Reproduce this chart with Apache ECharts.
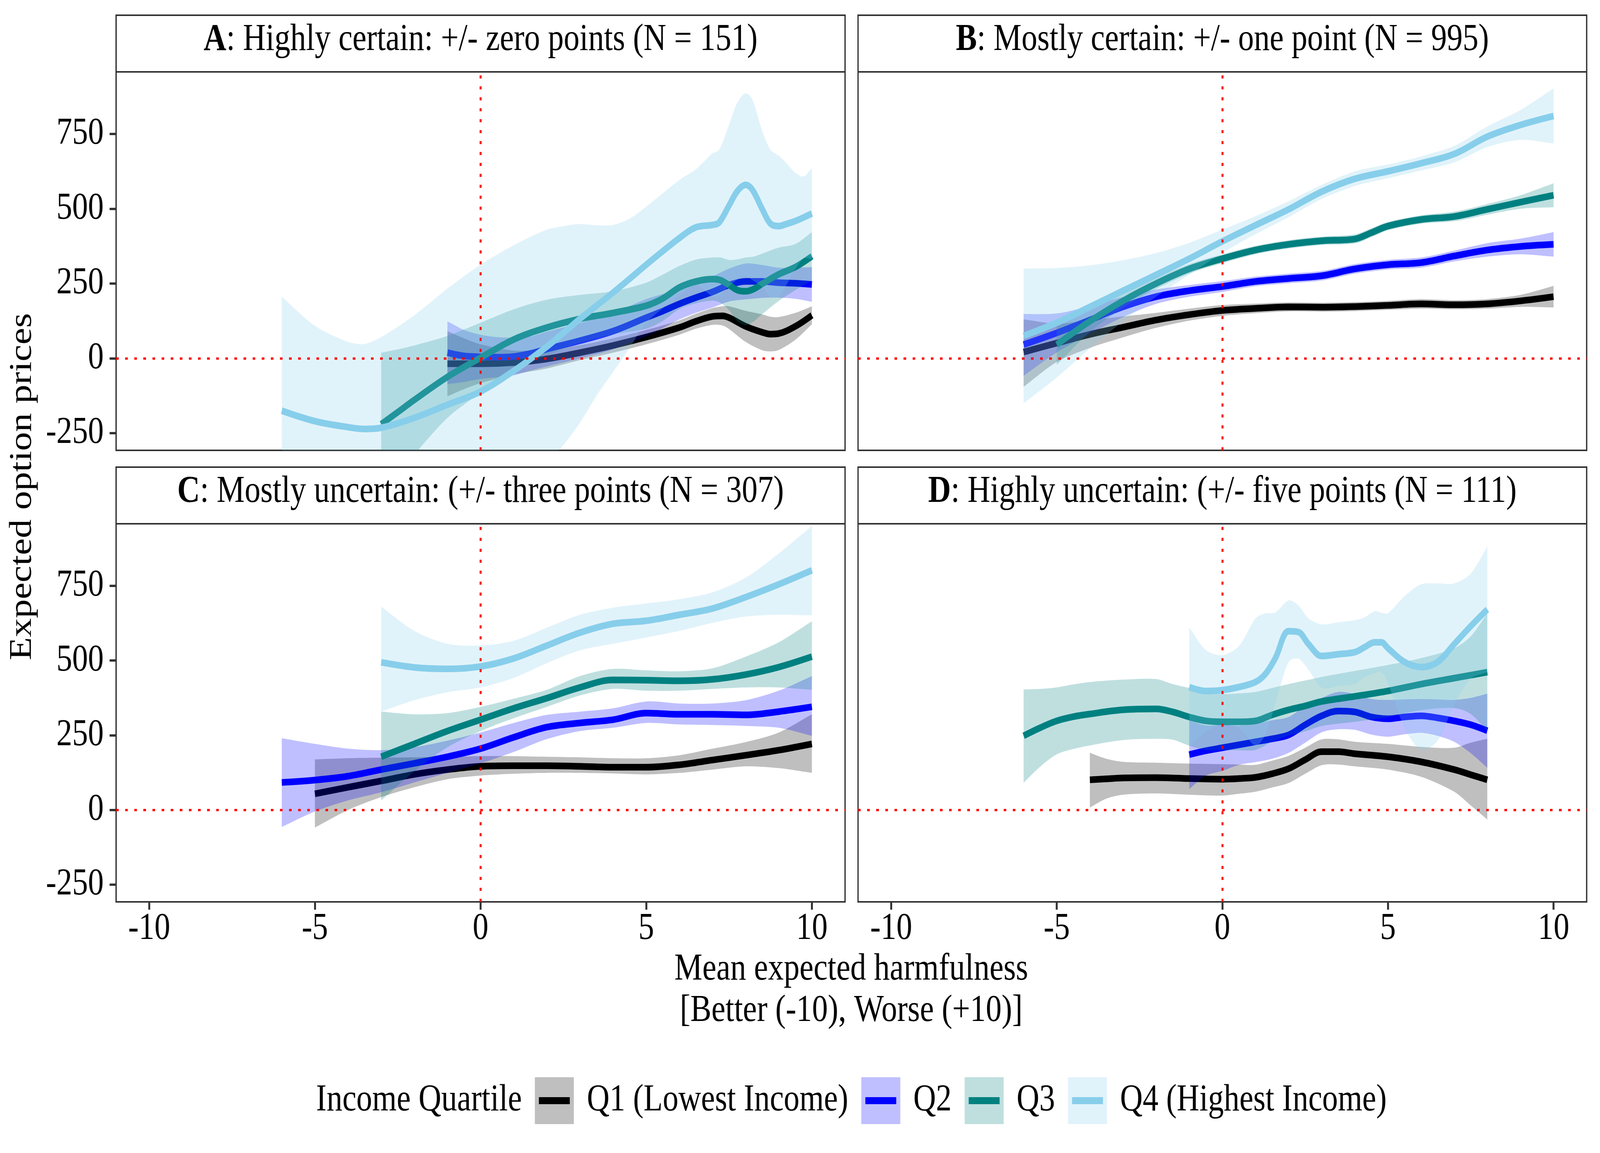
<!DOCTYPE html>
<html>
<head>
<meta charset="utf-8">
<script src="https://cdn.jsdelivr.net/npm/echarts@6/dist/echarts.min.js"></script>
<style>
  html, body { margin: 0; padding: 0; background: #fff; overflow: hidden; }
  #chart { width: 4921px; height: 2952px; transform-origin: 0 0; }
</style>
</head>
<body>
<div id="chart"></div>
<script>
// each row: [harmfulness, fitted price, lower CI, upper CI]
var A_Q1 = [[-1,-18,-127,91],[-0.5,-18,-103,67],[0,-18,-83,47],[1,-14,-54,26],[2,-2,-34,30],[3,19,-6,44],[4,43,19,67],[5,71,47,95],[6,103,79,127],[6.5,124,99,149],[7,140,112,168],[7.3,142,110,174],[7.5,136,98,174],[8,107,55,159],[8.5,87,27,147],[8.75,81,23,139],[9,83,28,138],[9.5,107,62,152],[10,144,114,174]];
var A_Q2 = [[-1,19,-86,124],[-0.5,8,-79,95],[0,5,-69,79],[0.5,4,-63,71],[1,6,-57,69],[1.5,16,-41,73],[2,31,-27,89],[3,59,0,118],[4,91,30,152],[5,136,74,198],[5.5,158,101,215],[6,182,130,234],[6.5,203,152,254],[7,222,170,274],[7.5,245,190,300],[8,257,197,317],[8.5,257,202,312],[9,253,203,303],[9.5,251,199,303],[10,247,189,305]];
var A_Q3 = [[-3,-220,-459,19],[-2.5,-180,-385,30],[-2,-139,-321,43],[-1,-62,-199,75],[0,2,-115,119],[1,63,-38,164],[2,103,10,196],[3,132,52,212],[4,152,80,224],[5,176,99,253],[5.5,200,125,280],[6,237,165,309],[6.5,257,184,330],[7,265,193,337],[7.25,261,185,337],[7.5,245,161,329],[7.75,228,125,331],[8,224,111,337],[8.25,232,124,340],[8.5,249,148,350],[9,281,192,370],[9.5,305,228,382],[10,341,260,422]];
var A_Q4 = [[-6,-175,-556,206],[-5,-210,-529,109],[-4,-230,-515,55],[-3.5,-236,-522,48],[-3,-232,-535,71],[-2,-199,-542,144],[-1,-155,-543,233],[0,-111,-535,313],[1,-42,-462,378],[2,39,-352,430],[2.5,85,-290,442],[3,132,-215,449],[3.5,176,-125,445],[4,220,-45,446],[4.5,266,35,467],[5,313,119,507],[6,402,208,596],[6.5,438,244,632],[7,446,207,685],[7.2,454,211,697],[7.5,511,241,781],[7.75,559,263,855],[8,580,274,886],[8.2,564,262,866],[8.5,499,238,760],[8.75,450,203,697],[9,442,207,677],[9.2,448,240,656],[9.5,459,298,620],[9.75,471,334,608],[10,484,332,636]];

var B_Q1 = [[-6,21,-95,130],[-5,51,-12,116],[-4,80,35,128],[-3,104,70,140],[-2,128,102,152],[-1,146,126,166],[0,160,142,178],[1,167,151,183],[2,172,157,187],[3,171,156,186],[4,173,158,188],[5,177,162,192],[6,182,166,198],[7,179,164,194],[8,182,166,198],[9,192,172,212],[10,206,170,242]];
var B_Q2 = [[-6,46,-58,148],[-5,85,20,150],[-4,128,82,175],[-3,172,138,205],[-2,206,182,230],[-1,226,206,245],[0,240,222,258],[1,257,241,273],[2,267,251,283],[3,276,260,292],[4,299,283,315],[5,313,297,329],[6,320,303,337],[7,342,324,360],[8,362,340,385],[9,374,348,400],[10,381,340,422]];
var B_Q3 = [[-5,46,-22,114],[-4,124,88,160],[-3,192,169,215],[-2,250,232,268],[-1,299,283,315],[0,333,318,348],[1,362,348,376],[2,381,367,395],[3,393,379,407],[4,399,384,414],[4.5,420,405,435],[5,442,428,456],[6,464,450,478],[7,474,458,490],[8,498,480,516],[9,522,500,545],[10,545,505,585]];
var B_Q4 = [[-6,75,-150,300],[-5,119,-64,302],[-4,172,33,311],[-3,226,124,328],[-2,279,206,352],[-1,333,280,386],[0,391,352,430],[1,445,415,475],[2,498,472,525],[3,557,533,580],[4,600,576,625],[5,625,602,648],[6,652,628,675],[7,683,655,710],[8,741,706,775],[9,780,730,830],[10,810,718,902]];

var C_Q1 = [[-5,54,-59,169],[-4,76,0,173],[-3,97,43,175],[-2,119,76,176],[-1,135,103,178],[0,146,115,180],[1,148,121,180],[2,148,124,178],[3,146,124,176],[4,143,122,173],[5,143,119,173],[6,151,124,183],[7,167,135,205],[8,183,146,227],[9,200,140,259],[10,221,124,320]];
var C_Q2 = [[-6,92,-57,240],[-5,100,-5,221],[-4,113,32,205],[-3,135,59,200],[-2,156,92,210],[-1,178,124,232],[0,205,156,259],[1,243,194,291],[2,277,237,318],[3,291,264,329],[4,302,275,340],[5,324,291,363],[6,320,286,356],[7,320,284,356],[8,318,281,367],[9,329,275,399],[10,345,248,448]];
var C_Q3 = [[-3,178,32,329],[-2,221,129,320],[-1,264,210,324],[0,302,264,345],[1,340,307,372],[2,374,345,402],[3,410,383,448],[4,435,405,472],[5,434,399,467],[6,432,399,464],[7,437,405,474],[8,453,410,513],[9,478,410,561],[10,513,402,631]];
var C_Q4 = [[-3,494,329,680],[-2,477,367,599],[-1,472,394,556],[0,480,410,550],[1,507,442,566],[2,550,491,610],[3,593,534,653],[4,623,556,677],[5,633,577,691],[6,653,599,705],[7,674,626,728],[8,712,647,777],[9,755,653,858],[10,802,651,950]];

var D_Q1 = [[-4,101,8,191],[-3.5,104,38,171],[-3,107,51,161],[-2,108,55,158],[-1,105,51,155],[0,103,48,153],[0.5,105,54,152],[1,109,61,151],[1.5,121,75,165],[2,138,90,181],[2.5,168,121,208],[3,195,150,236],[3.5,195,152,236],[4,188,146,228],[5,178,135,221],[6,161,111,211],[7,135,61,208],[7.5,118,15,225],[8,101,-32,238]];
var D_Q2 = [[-1,185,70,300],[-0.5,198,115,283],[0,208,131,285],[0.5,218,151,282],[1,228,160,290],[1.5,238,171,300],[2,251,191,311],[2.5,285,225,348],[3,315,260,375],[3.5,331,270,395],[4,328,268,388],[4.5,311,252,371],[5,305,245,368],[5.5,311,253,370],[6,315,258,371],[6.5,308,248,370],[7,298,228,368],[7.5,285,190,375],[8,265,141,389]];
var D_Q3 = [[-6,248,91,403],[-5.5,275,145,405],[-5,298,186,410],[-4.5,312,204,420],[-4,321,216,428],[-3,335,234,436],[-2,338,238,438],[-1.5,328,235,421],[-1,311,215,408],[-0.5,298,201,395],[0,295,200,388],[0.5,295,200,390],[1,298,201,395],[1.5,318,228,408],[2,335,249,421],[2.5,348,263,433],[3,363,281,445],[4,380,295,465],[5,398,311,485],[6,421,334,508],[7,441,341,541],[7.5,451,321,581],[8,461,264,658]];
var D_Q4 = [[-1,411,211,611],[-0.5,398,261,535],[0,401,284,518],[0.5,411,274,548],[1,428,215,641],[1.3,455,252,658],[1.6,508,355,661],[2,598,495,701],[2.3,595,506,684],[2.6,555,469,641],[3,515,409,621],[3.5,521,414,628],[4,528,421,635],[4.3,545,445,645],[4.6,561,457,665],[4.8,561,462,660],[5,541,424,658],[5.5,495,275,715],[6,478,201,755],[6.5,495,232,758],[7,555,352,758],[7.5,615,439,791],[8,671,461,881]];

var xTicks = [-10, -5, 0, 5, 10];
var yTicks = [-250, 0, 250, 500, 750];
var quartiles = ['Q1 (Lowest Income)', 'Q2', 'Q3', 'Q4 (Highest Income)'];
var panelLetters = ['A', 'B', 'C', 'D'];
var panelLabels = [
  ': Highly certain: +/- zero points (N = 151)',
  ': Mostly certain: +/- one point (N = 995)',
  ': Mostly uncertain: (+/- three points (N = 307)',
  ': Highly uncertain: (+/- five points (N = 111)'
];
var panelData = [
  [A_Q1, A_Q2, A_Q3, A_Q4],
  [B_Q1, B_Q2, B_Q3, B_Q4],
  [C_Q1, C_Q2, C_Q3, C_Q4],
  [D_Q1, D_Q2, D_Q3, D_Q4]
];

var FONT = 'Liberation Serif';
var FS = 97;
var lineColors = ['#000000', '#0000ff', '#008080', '#87ceeb'];
var bandColors = ['rgba(0,0,0,0.25)', 'rgba(0,0,255,0.25)', 'rgba(0,128,128,0.25)', 'rgba(135,206,235,0.25)'];

// the chart is laid out for 4921x2952; squeeze it into whatever viewport we really get
var W = 4921, H = 2952;
var el = document.getElementById('chart');
el.style.transform = 'scale(' + (window.innerWidth / W) + ',' + (window.innerHeight / H) + ')';

var panels = [
  { left: 357, top: 184, width: 2242, height: 969, stripTop: 39 },
  { left: 2639, top: 184, width: 2241, height: 969, stripTop: 39 },
  { left: 357, top: 1341, width: 2242, height: 968, stripTop: 1196 },
  { left: 2639, top: 1341, width: 2241, height: 968, stripTop: 1196 }
];

var chart = echarts.init(el, null, { width: W, height: H });

function bandRenderer(rows, fill) {
  return function (params, api) {
    if (params.dataIndex !== 0) return null;
    var n = rows.length, pts = [], i, p;
    for (i = 0; i < n; i++) {
      p = api.coord([rows[i][0], rows[i][3]]);
      pts.push(p);
      if (i === 0 || i === n - 1) pts.push(p.slice());
    }
    for (i = n - 1; i >= 0; i--) {
      p = api.coord([rows[i][0], rows[i][2]]);
      pts.push(p);
      if (i === 0 || i === n - 1) pts.push(p.slice());
    }
    var cs = params.coordSys;
    return {
      type: 'polygon',
      shape: { points: pts, smooth: 0.3 },
      style: { fill: fill, stroke: null },
      clipPath: { type: 'rect', shape: { x: cs.x, y: cs.y, width: cs.width, height: cs.height } }
    };
  };
}

var grids = [], xAxes = [], yAxes = [], series = [], graphics = [];
var tickStyle = { color: '#333333', width: 6 };
var labelFont = { fontFamily: FONT, fontSize: FS, color: '#000' };

panels.forEach(function (pn, g) {
  var bottomRow = g >= 2, leftCol = g % 2 === 0;
  grids.push({
    left: pn.left, top: pn.top, width: pn.width, height: pn.height,
    show: true, borderColor: '#333333', borderWidth: 4, backgroundColor: 'transparent'
  });
  xAxes.push({
    type: 'value', gridIndex: g, min: -11, max: 11,
    axisLine: { show: false, onZero: false },
    splitLine: { show: false },
    axisTick: { show: bottomRow, length: 20, customValues: xTicks, lineStyle: tickStyle },
    axisLabel: Object.assign({ show: bottomRow, customValues: xTicks, margin: 21 }, labelFont)
  });
  yAxes.push({
    type: 'value', gridIndex: g, min: -307.5, max: 957.5,
    axisLine: { show: false, onZero: false },
    splitLine: { show: false },
    axisTick: { show: leftCol, length: 20, customValues: yTicks, lineStyle: tickStyle },
    axisLabel: Object.assign({ show: leftCol, customValues: yTicks, margin: 38 }, labelFont)
  });

  panelData[g].forEach(function (rows, k) {
    series.push({
      type: 'custom', name: quartiles[k], xAxisIndex: g, yAxisIndex: g,
      data: rows, encode: { x: 0, y: [2, 3] },
      renderItem: bandRenderer(rows, bandColors[k]),
      silent: true, animation: false, z: 2 + 2 * k
    });
    var s = {
      type: 'line', name: quartiles[k], xAxisIndex: g, yAxisIndex: g,
      data: rows.map(function (r) { return [r[0], r[1]]; }),
      showSymbol: false, symbol: 'none', smooth: 0.35,
      lineStyle: { color: lineColors[k], width: 17 },
      itemStyle: { color: lineColors[k] },
      silent: true, animation: false, z: 3 + 2 * k
    };
    if (k === 3) {
      s.markLine = {
        z: 100, silent: true, animation: false, symbol: ['none', 'none'],
        label: { show: false },
        lineStyle: { color: '#ff0000', width: 6, type: [8, 20] },
        emphasis: { disabled: true },
        data: [{ xAxis: 0 }, { yAxis: 0 }]
      };
    }
    series.push(s);
  });

  // facet strip
  graphics.push({
    type: 'rect', silent: true, z: 1,
    shape: { x: pn.left, y: pn.stripTop, width: pn.width, height: pn.top - pn.stripTop },
    style: { fill: '#ffffff', stroke: '#333333', lineWidth: 4 }
  });
  graphics.push({
    type: 'text', silent: true, z: 2,
    x: pn.left + pn.width / 2, y: pn.stripTop + 64,
    style: {
      text: '{b|' + panelLetters[g] + '}{n|' + panelLabels[g] + '}',
      align: 'center', verticalAlign: 'middle',
      rich: {
        b: { fontFamily: FONT, fontSize: FS, fontWeight: 'bold', fill: '#000' },
        n: { fontFamily: FONT, fontSize: FS, fill: '#000' }
      }
    }
  });
});

function plainText(str, x, y, align, rotation) {
  return {
    type: 'text', silent: true, x: x, y: y, rotation: rotation || 0,
    style: { text: str, fontFamily: FONT, fontSize: FS, fill: '#000', align: align, verticalAlign: 'middle' }
  };
}
graphics.push(plainText('Mean expected harmfulness', 2618, 2483, 'center'));
graphics.push(plainText('[Better (-10), Worse (+10)]', 2618, 2589, 'center'));
graphics.push(plainText('Expected option prices', 70, 1246, 'center', Math.PI / 2));
graphics.push(plainText('Income Quartile', 1605, 2818, 'right'));

var legendText = { fontFamily: FONT, fontSize: 96.5, color: '#000', lineHeight: 120, padding: [0, 0, 0, 35] };
var legends = [
  {
    left: 1645, top: 2758, orient: 'horizontal', padding: 0, selectedMode: false,
    itemWidth: 120, itemHeight: 120, itemGap: 40, textStyle: legendText,
    data: quartiles.map(function (q, i) {
      return { name: q, icon: 'rect', itemStyle: { color: lineColors[i], opacity: 0.25, borderWidth: 0 } };
    })
  },
  {
    // the line drawn through each key; its icon sits 12.5px inside the 120px slot,
    // so the offset and the gap are widened by that much to stay over the boxes
    left: 1657.5, top: 2758, orient: 'horizontal', padding: 0, selectedMode: false,
    itemWidth: 120, itemHeight: 18, itemGap: 52.5,
    textStyle: Object.assign({}, legendText, { color: 'rgba(0,0,0,0)' }),
    data: quartiles.map(function (q, i) {
      return { name: q, icon: 'path://M0,0H95V18H0Z', itemStyle: { color: lineColors[i], opacity: 1, borderWidth: 0 } };
    })
  }
];

chart.setOption({
  backgroundColor: '#ffffff',
  animation: false,
  grid: grids,
  xAxis: xAxes,
  yAxis: yAxes,
  legend: legends,
  graphic: graphics,
  series: series
});
</script>
</body>
</html>
